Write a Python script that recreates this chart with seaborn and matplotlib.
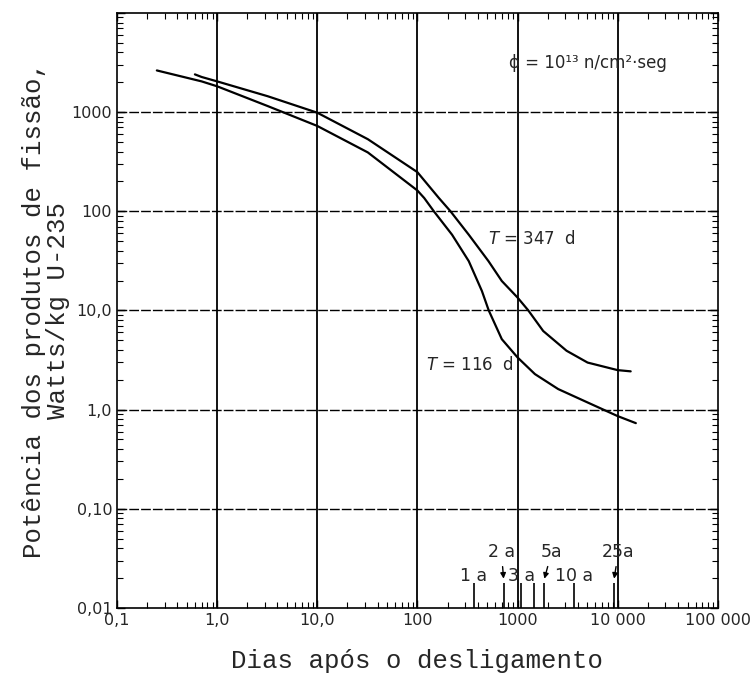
import pandas as pd
import seaborn as sns
import matplotlib.pyplot as plt

# curves (days, W/kg U-235)
dias_347 = [0.60, 0.70, 1.0, 3.2, 10, 32, 100, 164, 214, 326, 513, 697, 1000, 1282, 1806, 3090, 5010, 10000, 13500]
pot_347 = [2400, 2260, 2040, 1445, 986, 533, 248, 136, 100, 58, 31.4, 19.8, 13.5, 10, 6.2, 3.92, 2.98, 2.50, 2.43]

dias_116 = [0.25, 0.70, 1.0, 3.2, 10, 32, 100, 117, 146, 222, 326, 441, 516, 697, 1000, 1493, 2550, 5010, 10000, 15200]
pot_116 = [2630, 2040, 1820, 1150, 725, 392, 162, 136, 100, 58, 31.4, 15.7, 10, 5.13, 3.36, 2.28, 1.61, 1.18, 0.86, 0.73]

# year marks on the time axis
anos_dias = [365, 730, 1095, 1461, 1826, 3652, 9131]

x_ticks = [0.1, 1, 10, 100, 1000, 10000, 100000]
x_lbls = ["0,1", "1,0", "10,0", "100", "1000", "10 000", "100 000"]
y_ticks = [0.01, 0.1, 1, 10, 100, 1000, 10000]
y_lbls = ["0,01", "0,10", "1,0", "10,0", "100", "1000", ""]

df_a = pd.DataFrame({"dias": dias_347, "pot": pot_347})
df_b = pd.DataFrame({"dias": dias_116, "pot": pot_116})

sns.set_style("ticks")
plt.rcParams["font.family"] = ["DejaVu Sans"]

fig = plt.figure(figsize=(7.5, 6.8), dpi=100)
ax = fig.add_axes([0.156, 0.106, 0.801, 0.875])

sns.lineplot(data=df_a, x="dias", y="pot", color="black", lw=1.6, ax=ax)
sns.lineplot(data=df_b, x="dias", y="pot", color="black", lw=1.6, ax=ax)

ax.set_xscale("log")
ax.set_yscale("log")
ax.set_xlim(0.1, 100000)
ax.set_ylim(0.01, 10000)

ax.set_xticks(x_ticks)
ax.set_xticklabels(x_lbls, fontsize=11.5)
ax.set_yticks(y_ticks)
ax.set_yticklabels(y_lbls, fontsize=11.5)
ax.tick_params(which="both", direction="in", top=True, right=True, color="black")
ax.tick_params(which="major", length=6, width=1)
ax.tick_params(which="minor", length=4, width=0.8)
for s in ax.spines.values():
    s.set_linewidth(1.2)
    s.set_color("black")

for xv in x_ticks[1:-1]:
    ax.axvline(xv, color="black", lw=1.3)
for yv in y_ticks[1:-1]:
    ax.axhline(yv, color="black", lw=1.0, ls=(0, (7, 1.5)))

# year ticks
ax.vlines(anos_dias, 0.01, 0.018, color="black", lw=1.2)
ax.text(365, 0.021, "1 a", fontsize=12.5, ha="center", va="center")
ax.text(1095, 0.021, "3 a", fontsize=12.5, ha="center", va="center")
ax.text(3652, 0.021, "10 a", fontsize=12.5, ha="center", va="center")
arw = dict(arrowstyle="-|>", color="black", lw=1, mutation_scale=8)
ax.annotate("2 a", xy=(730, 0.0185), xytext=(690, 0.037), fontsize=12.5,
            ha="center", va="center", arrowprops=arw)
ax.annotate("5a", xy=(1826, 0.0185), xytext=(2200, 0.037), fontsize=12.5,
            ha="center", va="center", arrowprops=arw)
ax.annotate("25a", xy=(9131, 0.0185), xytext=(10200, 0.037), fontsize=12.5,
            ha="center", va="center", arrowprops=arw)

ax.text(504, 52, "$T$ = 347  d", fontsize=12, va="center")
ax.text(121, 2.8, "$T$ = 116  d", fontsize=12, va="center")
ax.text(815, 3160, "ϕ = 10¹³ n/cm²·seg", fontsize=12, va="center")

ax.set_xlabel("Dias após o desligamento", family="Liberation Mono", fontsize=18.5, labelpad=15)
ax.set_ylabel("Potência dos produtos de fissão,\nWatts/kg U-235", family="Liberation Mono",
              fontsize=18.5, labelpad=1, linespacing=1.0)

plt.savefig("out.png", dpi=100)
plt.close()
